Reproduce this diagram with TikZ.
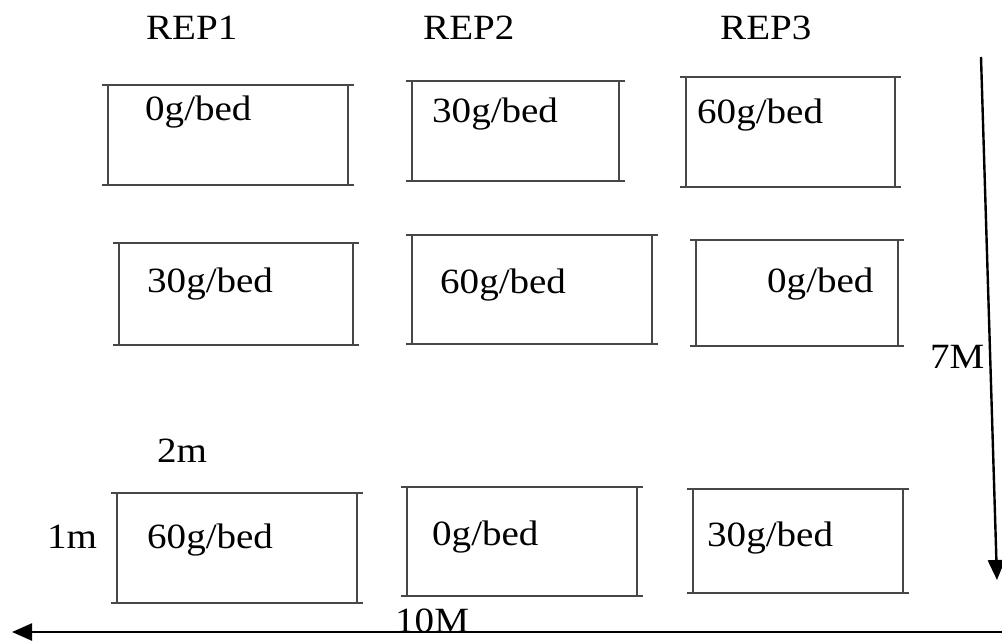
\documentclass[tikz,border=0pt]{standalone}
\usepackage{fontspec}
\setmainfont{Liberation Serif}[FakeStretch=1.1]
\usetikzlibrary{arrows.meta}
\tikzset{
  bedarea/.style={draw=none, inner sep=0pt, rectangle},
  bedline/.style={draw=black!72, line width=1.6pt},
  lbl/.style={inner sep=0pt, anchor=base west, font=\fontsize{35.5}{40}\selectfont, text=black},
  dimarrow/.style={draw=black, line width=2.4pt, -{Triangle[length=20pt,width=17pt]}}
}
\newcommand\bedbox[5]{% name, x1, y1, x2, y2
  \node[bedarea, minimum width={(#4-#2)*1pt}, minimum height={(#5-#3)*1pt}] (#1) at ({(#2+#4)/2},{(#3+#5)/2}) {};
  \draw[bedline] ([xshift=-6pt]#1.north west) -- ([xshift=6pt]#1.north east);
  \draw[bedline] ([xshift=-6pt]#1.south west) -- ([xshift=6pt]#1.south east);
  \draw[bedline] (#1.north west) -- (#1.south west);
  \draw[bedline] (#1.north east) -- (#1.south east);
}
\begin{document}
\begin{tikzpicture}[x=1pt,y=-1pt]
\useasboundingbox[fill=white] (0,0) rectangle (1002,642);
% headers
\node[lbl] (rep1) at (146,40) {REP1};
\node[lbl] (rep2) at (423,40) {REP2};
\node[lbl] (rep3) at (720,40) {REP3};
% row 1
\bedbox{b1}{108}{85}{348}{185}
\node[lbl] (t1) at (145,121) {0g/bed};
\bedbox{b2}{412}{81}{619}{181}
\node[lbl] (t2) at (432,122) {30g/bed};
\bedbox{b3}{686}{77}{895}{187}
\node[lbl] (t3) at (697,123) {60g/bed};
% row 2
\bedbox{b4}{119}{243}{353}{345}
\node[lbl] (t4) at (147,292) {30g/bed};
\bedbox{b5}{412}{235}{652}{344}
\node[lbl] (t5) at (440,293) {60g/bed};
\bedbox{b6}{696}{240}{898}{346}
\node[lbl] (t6) at (767,292) {0g/bed};
% row 3
\bedbox{b7}{117}{493}{357}{603}
\node[lbl] (t7) at (147,548) {60g/bed};
\bedbox{b8}{407}{487}{637}{596}
\node[lbl] (t8) at (432,545) {0g/bed};
\bedbox{b9}{693}{489}{903}{593}
\node[lbl] (t9) at (707,546) {30g/bed};
% dimension labels
\node[lbl] (one) at (47,548) {1m};
\node[lbl] (two) at (157,462) {2m};
\node[lbl] (seven) at (930,368) {7M};
\node[lbl] (ten) at (395,632) {10M};
% arrows
\coordinate (vtop) at (981,57);
\coordinate (vbot) at (997,580);
\coordinate (hr) at (1002,632);
\coordinate (hl) at (12,632);
\draw[dimarrow] (vtop) -- (vbot);
\draw[dimarrow] (hr) -- (hl);
\end{tikzpicture}
\end{document}
